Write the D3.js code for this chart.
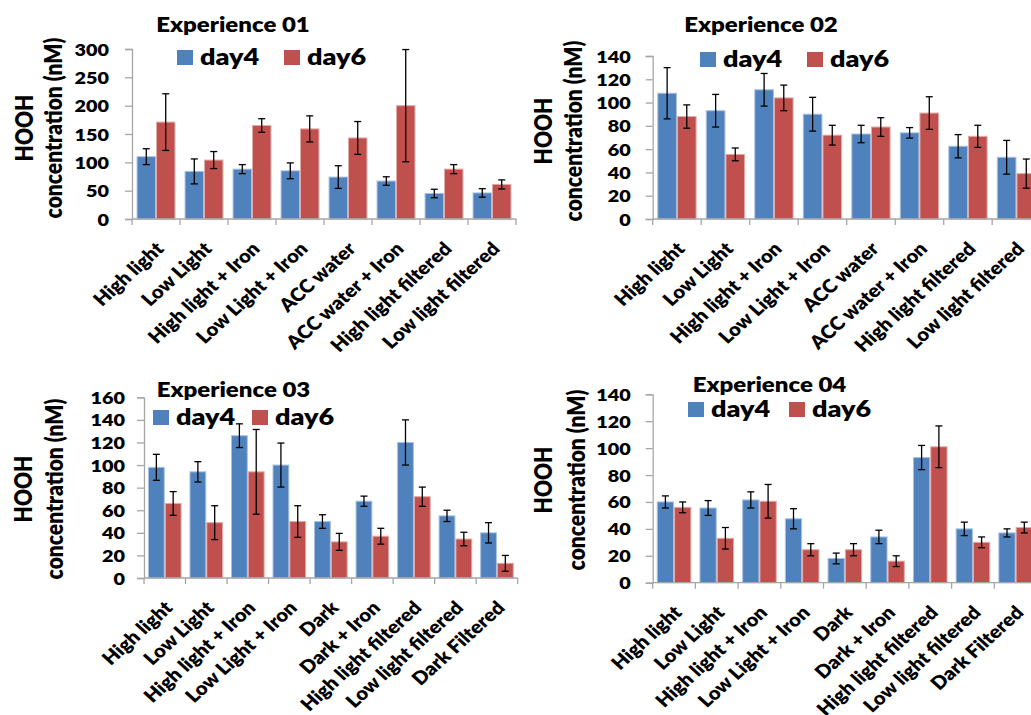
<!DOCTYPE html>
<html>
<head>
<meta charset="utf-8">
<script src="https://cdn.jsdelivr.net/npm/d3@7"></script>
<style>
  html, body { margin: 0; padding: 0; background: #fff; }
  svg { display: block; }
  text { font-family: Lato, "Noto Sans", sans-serif; font-weight: 800; fill: #000; }
</style>
</head>
<body>
<svg id="chart" width="1031" height="715"></svg>
<script>
// Treatments
const catsA = ["High light", "Low Light", "High light + Iron", "Low Light + Iron",
  "ACC water", "ACC water + Iron", "High light filtered", "Low light filtered"];
const catsB = ["High light", "Low Light", "High light + Iron", "Low Light + Iron",
  "Dark", "Dark + Iron", "High light filtered", "Low light filtered", "Dark Filtered"];

const seriesNames = ["day4", "day6"];

// Experience 01
const exp1Day4 = [110, 84, 88, 85, 74, 67, 45, 46];
const exp1Day4Err = [14, 22, 8, 14, 20, 7.5, 7.5, 7.5];
const exp1Day6 = [171, 104, 165, 159, 143, 200, 88, 61];
const exp1Day6Err = [50, 15, 12, 23, 29, 99, 8, 8];
const exp1Ticks = [0, 50, 100, 150, 200, 250, 300];

// Experience 02
const exp2Day4 = [108, 93, 111, 90, 73, 74, 62.5, 53];
const exp2Day4Err = [22, 14, 14, 14.5, 7.5, 4.5, 10, 14.5];
const exp2Day6 = [88, 55.5, 104, 72, 79, 91, 71, 39];
const exp2Day6Err = [10, 5.5, 11, 8.5, 8, 14, 9.5, 12.5];
const exp2Ticks = [0, 20, 40, 60, 80, 100, 120, 140];

// Experience 03
const exp3Day4 = [98, 94, 126, 100, 50, 68, 120, 55, 40];
const exp3Day4Err = [11.5, 9, 10.5, 19.5, 6, 4.5, 20, 5, 9];
const exp3Day6 = [66, 49, 94, 50, 32, 37, 72, 34.5, 13];
const exp3Day6Err = [10.5, 15, 37.5, 14, 7.5, 7, 8.5, 6, 7];
const exp3Ticks = [0, 20, 40, 60, 80, 100, 120, 140, 160];

// Experience 04
const exp4Day4 = [60, 55.5, 61.5, 47.5, 18, 34, 93, 40, 37];
const exp4Day4Err = [4.5, 5.5, 6, 7.5, 4, 5, 9, 5, 3];
const exp4Day6 = [56, 33, 60.5, 24.5, 24.5, 16, 101, 30, 41];
const exp4Day6Err = [4, 8, 12.5, 4.5, 4.5, 4, 15.5, 4, 4];
const exp4Ticks = [0, 20, 40, 60, 80, 100, 120, 140];

const colors = ["#4F81BD", "#C0504D"];
const edges = ["#A9C1E0", "#E3A9A7"];
const axisColor = "#A6A6A6";
const SX = 1.2;      // horizontal text stretch
const SX_CAT = 1.1;  // stretch for slanted category labels

const panels = [
  { title: "Experience 01", cats: catsA, vals: [exp1Day4, exp1Day6], errs: [exp1Day4Err, exp1Day6Err], ticks: exp1Ticks,
    x0: 132, x1: 516, yTop: 49, yBase: 219, tickGap: 16,
    titleX: 233, titleY: 32, legX: 177, legY: 50, legSpan: 107, legBase: 65,
    labBase: [33, 62], labY: 128 },
  { title: "Experience 02", cats: catsA, vals: [exp2Day4, exp2Day6], errs: [exp2Day4Err, exp2Day6Err], ticks: exp2Ticks,
    x0: 652.7, x1: 652.7 + 8 * 48.5, yTop: 56, yBase: 219, tickGap: 15,
    titleX: 761, titleY: 32, legX: 700, legY: 52, legSpan: 107, legBase: 67,
    labBase: [552, 582], labY: 131 },
  { title: "Experience 03", cats: catsB, vals: [exp3Day4, exp3Day6], errs: [exp3Day4Err, exp3Day6Err], ticks: exp3Ticks,
    x0: 144, x1: 517.7, yTop: 397.3, yBase: 578, tickGap: 12,
    titleX: 233.5, titleY: 397, legX: 153, legY: 410, legSpan: 99, legBase: 425,
    labBase: [32, 63], labY: 489 },
  { title: "Experience 04", cats: catsB, vals: [exp4Day4, exp4Day6], errs: [exp4Day4Err, exp4Day6Err], ticks: exp4Ticks,
    x0: 652.7, x1: 652.7 + 9 * 42.7, yTop: 394.3, yBase: 582.7, tickGap: 15,
    titleX: 769.5, titleY: 392, legX: 688, legY: 402, legSpan: 101, legBase: 417,
    labBase: [552, 585], labY: 480 }
];

const svg = d3.select("#chart");
svg.append("rect").attr("width", 1031).attr("height", 715).attr("fill", "#fff");

function drawPanel(p) {
  const g = svg.append("g");
  const maxV = p.ticks[p.ticks.length - 1];
  const y = d3.scaleLinear().domain([0, maxV]).range([p.yBase, p.yTop]);
  const x = d3.scaleBand().domain(p.cats).range([p.x0, p.x1]).padding(0);
  const bw = x.bandwidth();
  const gap = bw * 0.19;
  const xs = d3.scaleBand().domain(seriesNames).range([gap / 2, bw - gap / 2]).padding(0);

  // bars with error bars
  seriesNames.forEach((s, si) => {
    const data = p.cats.map((c, i) => ({ c, v: p.vals[si][i], e: p.errs[si][i] }));
    g.append("g").selectAll("rect").data(data).join("rect")
      .attr("x", d => x(d.c) + xs(s) + 0.5)
      .attr("y", d => y(d.v))
      .attr("width", xs.bandwidth() - 1)
      .attr("height", d => y(0) - y(d.v))
      .attr("fill", colors[si])
      .attr("stroke", edges[si])
      .attr("stroke-width", 1);

    const eb = g.append("g").attr("stroke", "#000").attr("stroke-width", 1.3).attr("fill", "none");
    data.forEach(d => {
      const cx = x(d.c) + xs(s) + xs.bandwidth() / 2;
      const hi = y(d.v + d.e), lo = y(Math.max(0, d.v - d.e));
      eb.append("line").attr("x1", cx).attr("x2", cx).attr("y1", hi).attr("y2", lo);
      eb.append("line").attr("x1", cx - 3.5).attr("x2", cx + 3.5).attr("y1", hi).attr("y2", hi);
      eb.append("line").attr("x1", cx - 3.5).attr("x2", cx + 3.5).attr("y1", lo).attr("y2", lo);
    });
  });

  // y axis
  const ya = g.append("g").attr("transform", `translate(${p.x0},0)`)
    .call(d3.axisLeft(y).tickValues(p.ticks).tickSize(7).tickPadding(p.tickGap).tickFormat(d3.format("d")));
  ya.attr("font-size", null).attr("font-family", null);
  ya.select(".domain").attr("stroke", axisColor).attr("stroke-width", 1.3);
  ya.selectAll(".tick line").attr("stroke", axisColor).attr("stroke-width", 1.3);
  ya.selectAll(".tick text").each(function () {
    const t = d3.select(this);
    const xv = +t.attr("x");
    t.attr("x", null).attr("dy", null)
      .attr("transform", `translate(${xv},6) scale(${SX},1)`)
      .style("font-size", "16.5px");
  });

  // x axis line with category boundary ticks
  const xa = g.append("g").attr("stroke", axisColor).attr("stroke-width", 1.3);
  xa.append("line").attr("x1", p.x0).attr("x2", p.x1).attr("y1", y(0)).attr("y2", y(0));
  const bounds = p.cats.map(c => x(c)).concat([x(p.cats[p.cats.length - 1]) + bw]);
  bounds.forEach(b => xa.append("line").attr("x1", b).attr("x2", b).attr("y1", y(0)).attr("y2", y(0) + 6));

  // slanted category labels
  g.append("g").selectAll("text").data(p.cats).join("text")
    .attr("transform", c => `translate(${x(c) + bw / 2 + 9},${y(0) + 31}) scale(${SX_CAT},1) rotate(-45)`)
    .attr("text-anchor", "end")
    .style("font-size", "18.5px")
    .text(c => c);

  // title
  g.append("text")
    .attr("transform", `translate(${p.titleX},${p.titleY}) scale(${SX},1)`)
    .attr("text-anchor", "middle")
    .style("font-size", "20px")
    .text(p.title);

  // legend
  seriesNames.forEach((s, si) => {
    const lx = p.legX + si * p.legSpan;
    g.append("rect").attr("x", lx).attr("y", p.legY).attr("width", 16).attr("height", 15).attr("fill", colors[si]);
    g.append("text")
      .attr("transform", `translate(${lx + 23},${p.legBase}) scale(${SX},1)`)
      .style("font-size", "22.5px")
      .text(s);
  });

  // y axis title, two lines
  ["HOOH", "concentration (nM)"].forEach((t, i) => {
    g.append("text")
      .attr("transform", `translate(${p.labBase[i]},${p.labY}) scale(${SX},1) rotate(-90)`)
      .attr("text-anchor", "middle")
      .style("font-size", "21px")
      .text(t);
  });
}

panels.forEach(drawPanel);
</script>
</body>
</html>
